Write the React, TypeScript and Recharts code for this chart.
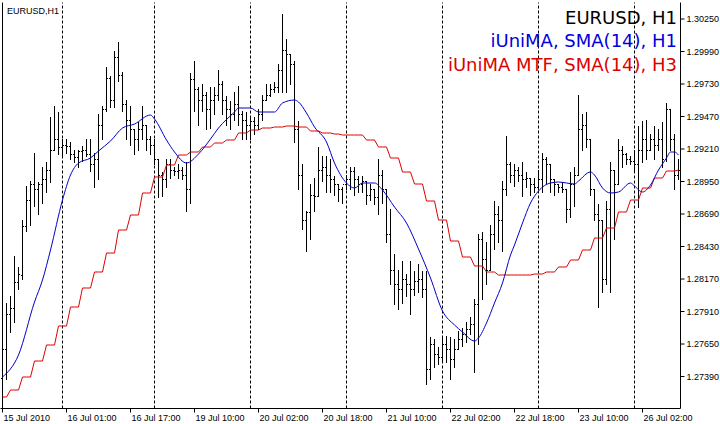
import React from 'react';
import { ComposedChart, Bar, Line, XAxis, YAxis, ReferenceLine } from 'recharts';

const OPEN = [
1.27378,1.27602,1.27882,1.27930,1.28138,1.28202,1.28586,1.28802,1.28922,1.28882,
1.28922,1.28962,1.29042,1.29202,1.29282,1.29218,1.29242,1.29226,1.29162,1.29138,
1.29186,1.29202,1.29162,1.29082,1.29122,1.29402,1.29522,1.29778,1.29602,1.29938,
1.29802,1.29562,1.29442,1.29362,1.29282,1.29362,1.29402,1.29282,1.29242,1.29122,
1.29002,1.28962,1.29082,1.29042,1.29026,1.29042,1.29002,1.28882,1.29762,1.29682,
1.29602,1.29642,1.29522,1.29602,1.29642,1.29722,1.29602,1.29522,1.29482,1.29562,
1.29482,1.29442,1.29402,1.29426,1.29402,1.29482,1.29602,1.29642,1.29682,1.29698,
1.29842,1.30002,1.29962,1.29882,1.29362,1.28994,1.28642,1.28698,1.28842,1.28826,
1.29042,1.29058,1.29002,1.28962,1.28922,1.28882,1.28922,1.28962,1.29026,1.28962,
1.28922,1.28946,1.28842,1.28882,1.28818,1.29002,1.28882,1.28522,1.28242,1.28122,
1.28082,1.28162,1.28122,1.28082,1.28146,1.28162,1.28082,1.27442,1.27642,1.27562,
1.27538,1.27642,1.27602,1.27522,1.27602,1.27682,1.27722,1.27762,1.27802,1.27962,
1.28482,1.28322,1.28242,1.28522,1.28682,1.28642,1.28882,1.29082,1.29002,1.29042,
1.29002,1.28962,1.28978,1.28922,1.28898,1.28962,1.29122,1.29082,1.28962,1.28922,
1.28898,1.28882,1.28722,1.28922,1.29002,1.29362,1.29402,1.29282,1.28882,1.28682,
1.28642,1.28162,1.28722,1.29042,1.28922,1.29202,1.29162,1.29122,1.29106,1.29082,
1.29202,1.29282,1.29202,1.29282,1.29242,1.29282,1.29122,1.29522,1.29282,1.29002,
];

const HIGH = [
1.27642,1.27978,1.28026,1.28346,1.28258,1.28642,1.28906,1.28946,1.29178,1.28938,
1.29058,1.29098,1.29458,1.29546,1.29498,1.29282,1.29282,1.29258,1.29202,1.29202,
1.29226,1.29282,1.29282,1.29178,1.29482,1.29546,1.29858,1.29786,1.29986,1.30066,
1.29826,1.29602,1.29546,1.29362,1.29418,1.29546,1.29402,1.29306,1.29282,1.29122,
1.29018,1.29122,1.29122,1.29058,1.29082,1.29058,1.29098,1.29818,1.29906,1.29698,
1.29722,1.29658,1.29698,1.29698,1.29834,1.29746,1.29626,1.29586,1.29658,1.29706,
1.29506,1.29498,1.29466,1.29458,1.29522,1.29642,1.29722,1.29722,1.29738,1.29882,
1.30282,1.30082,1.29962,1.29906,1.29426,1.29082,1.28706,1.28922,1.28970,1.29218,
1.29146,1.29146,1.29122,1.28986,1.28922,1.28898,1.29002,1.29066,1.29058,1.28986,
1.28986,1.28946,1.28922,1.28882,1.29122,1.29042,1.28882,1.28722,1.28362,1.28242,
1.28306,1.28202,1.28306,1.28226,1.28282,1.28226,1.28226,1.27698,1.27682,1.27618,
1.27706,1.27706,1.27698,1.27682,1.27746,1.27778,1.27818,1.27858,1.28002,1.28522,
1.28538,1.28458,1.28602,1.28786,1.28746,1.28946,1.29306,1.29098,1.29082,1.29066,
1.29098,1.29018,1.28978,1.28978,1.29042,1.29178,1.29138,1.29082,1.28962,1.28922,
1.28938,1.28882,1.29018,1.29066,1.29642,1.29482,1.29498,1.29282,1.28882,1.28762,
1.28642,1.28786,1.29098,1.29042,1.29282,1.29226,1.29178,1.29146,1.29202,1.29386,
1.29426,1.29442,1.29322,1.29386,1.29362,1.29418,1.29578,1.29522,1.29322,1.29122,
];

const LOW = [
1.27346,1.27362,1.27738,1.27818,1.28082,1.28162,1.28546,1.28602,1.28746,1.28682,
1.28778,1.28858,1.28938,1.29202,1.29162,1.29138,1.29178,1.29122,1.29098,1.29066,
1.29106,1.29146,1.29026,1.28898,1.28962,1.29282,1.29506,1.29538,1.29538,1.29746,
1.29506,1.29282,1.29242,1.29162,1.29202,1.29282,1.29202,1.29162,1.29082,1.28818,
1.28826,1.28898,1.28978,1.29002,1.28978,1.28962,1.28706,1.28778,1.29506,1.29402,
1.29506,1.29362,1.29378,1.29482,1.29602,1.29482,1.29402,1.29362,1.29442,1.29402,
1.29282,1.29282,1.29282,1.29322,1.29362,1.29442,1.29602,1.29626,1.29666,1.29666,
1.29666,1.29666,1.29722,1.29266,1.28882,1.28562,1.28386,1.28482,1.28706,1.28826,
1.28946,1.28866,1.28858,1.28842,1.28786,1.28778,1.28882,1.28882,1.28842,1.28858,
1.28858,1.28762,1.28802,1.28762,1.28682,1.28778,1.28458,1.28122,1.27962,1.27922,
1.27978,1.28026,1.27882,1.28042,1.28066,1.28018,1.27322,1.27362,1.27466,1.27482,
1.27506,1.27498,1.27362,1.27466,1.27602,1.27626,1.27658,1.27722,1.27418,1.27642,
1.28002,1.28122,1.28242,1.28402,1.28458,1.28386,1.28842,1.28938,1.28906,1.28946,
1.28826,1.28898,1.28842,1.28858,1.28882,1.28866,1.28922,1.28866,1.28842,1.28858,
1.28866,1.28618,1.28666,1.28746,1.29002,1.29202,1.29218,1.28842,1.28642,1.27938,
1.28058,1.28122,1.28066,1.28482,1.28922,1.29066,1.29082,1.29082,1.29042,1.28738,
1.29098,1.29122,1.29202,1.29122,1.29202,1.29066,1.29106,1.29202,1.28882,1.28962,
];

const CLOSE = [
1.27602,1.27882,1.27930,1.28138,1.28202,1.28586,1.28802,1.28922,1.28882,1.28922,
1.28962,1.29042,1.29202,1.29282,1.29218,1.29242,1.29226,1.29162,1.29138,1.29186,
1.29202,1.29162,1.29082,1.29122,1.29402,1.29522,1.29778,1.29602,1.29938,1.29802,
1.29562,1.29442,1.29362,1.29282,1.29362,1.29402,1.29282,1.29242,1.29122,1.29002,
1.28962,1.29082,1.29042,1.29026,1.29042,1.29002,1.28882,1.29762,1.29682,1.29602,
1.29642,1.29522,1.29602,1.29642,1.29722,1.29602,1.29522,1.29482,1.29562,1.29482,
1.29442,1.29402,1.29426,1.29402,1.29482,1.29602,1.29642,1.29682,1.29698,1.29842,
1.30002,1.29962,1.29882,1.29362,1.28994,1.28642,1.28698,1.28842,1.28826,1.29042,
1.29058,1.29002,1.28962,1.28922,1.28882,1.28922,1.28962,1.29026,1.28962,1.28922,
1.28946,1.28842,1.28882,1.28818,1.29002,1.28882,1.28522,1.28242,1.28122,1.28082,
1.28162,1.28122,1.28082,1.28146,1.28162,1.28082,1.27442,1.27642,1.27562,1.27538,
1.27642,1.27602,1.27522,1.27602,1.27682,1.27722,1.27762,1.27802,1.27962,1.28482,
1.28322,1.28242,1.28522,1.28682,1.28642,1.28882,1.29082,1.29002,1.29042,1.29002,
1.28962,1.28978,1.28922,1.28898,1.28962,1.29122,1.29082,1.28962,1.28922,1.28898,
1.28882,1.28722,1.28922,1.29002,1.29362,1.29402,1.29282,1.28882,1.28682,1.28642,
1.28162,1.28722,1.29042,1.28922,1.29202,1.29162,1.29122,1.29106,1.29082,1.29202,
1.29282,1.29202,1.29282,1.29242,1.29282,1.29122,1.29522,1.29282,1.29002,1.29042,
];

// iUniMA SMA(14) H1 — values read at selected bars (bar index, price)
const SMA_POINTS: [number, number][] = [
[0,1.27386],[4,1.27562],[8,1.27986],[10,1.28162],[12,1.28402],[15,1.28802],[17,1.29002],
[19,1.29098],[22,1.29138],[24,1.29194],[27,1.29274],[30,1.29378],[33,1.29410],[37,1.29482],
[38,1.29450],[41,1.29282],[43,1.29186],[46,1.29098],[49,1.29170],[52,1.29290],[54,1.29378],
[58,1.29506],[59,1.29538],[62,1.29538],[64,1.29506],[68,1.29506],[70,1.29578],[73,1.29602],
[74,1.29586],[76,1.29498],[78,1.29386],[81,1.29266],[83,1.29098],[86,1.28938],[88,1.28898],
[90,1.28938],[93,1.28938],[95,1.28882],[98,1.28746],[101,1.28618],[104,1.28410],[107,1.28178],
[110,1.27914],[113,1.27802],[115,1.27746],[118,1.27674],[119,1.27698],[121,1.27818],[123,1.27978],
[125,1.28138],[127,1.28362],[128,1.28442],[130,1.28618],[132,1.28778],[134,1.28874],[137,1.28938],
[139,1.28946],[141,1.28938],[143,1.28930],[144,1.28954],[147,1.29026],[148,1.29002],[150,1.28898],
[152,1.28858],[154,1.28866],[157,1.28938],[158,1.28914],[160,1.28866],[162,1.28922],[164,1.29042],
[166,1.29138],[167,1.29186],[168,1.29186],[169,1.29162],
];

// iUniMA MTF SMA(14) H3 — one value per H3 bar, starting at the given H1 bar index
const MTF_STARTS = [
0,2,5,8,11,14,17,20,23,26,29,32,35,38,41,44,47,50,53,56,59,62,65,68,71,74,77,80,83,85,
88,91,94,97,100,103,106,109,112,115,118,121,124,127,130,133,136,139,142,145,148,151,154,157,160,163,166,169,
];
const MTF_VALUES = [
1.27226,1.27282,1.27386,1.27514,1.27642,1.27794,1.27946,1.28098,1.28226,1.28378,
1.28562,1.28682,1.28858,1.28986,1.29082,1.29162,1.29186,1.29226,1.29258,1.29282,
1.29338,1.29362,1.29378,1.29386,1.29394,1.29386,1.29354,1.29338,1.29330,1.29322,
1.29322,1.29282,1.29226,1.29138,1.29026,1.28930,1.28794,1.28642,1.28474,1.28346,
1.28274,1.28226,1.28202,1.28202,1.28202,1.28210,1.28226,1.28266,1.28322,1.28402,
1.28498,1.28578,1.28706,1.28802,1.28898,1.28978,1.29034,1.29042,
];

const X_TICKS = [0, 16, 32, 48, 64, 80, 96, 112, 128, 144, 160];
const X_TICK_LABELS = [
'15 Jul 2010','16 Jul 01:00','16 Jul 17:00','19 Jul 10:00','20 Jul 02:00','20 Jul 18:00',
'21 Jul 10:00','22 Jul 02:00','22 Jul 18:00','23 Jul 10:00','26 Jul 02:00',
];
const DAY_SEPARATORS = [15, 38, 62, 86, 110, 134, 158];
const Y_TICKS = [1.2739,1.2765,1.2791,1.2817,1.2843,1.2869,1.2895,1.2921,1.2947,1.2973,1.2999,1.3025];
const Y_DOMAIN: [number, number] = [1.27134, 1.30382];

const smaMap = new Map<number, number>(SMA_POINTS);
const data = OPEN.map((o, i) => {
  let mtf = MTF_VALUES[0];
  for (let g = 0; g < MTF_STARTS.length; g++) if (MTF_STARTS[g] <= i) mtf = MTF_VALUES[g];
  return {
    i,
    open: o,
    high: HIGH[i],
    low: LOW[i],
    close: CLOSE[i],
    range: [LOW[i], HIGH[i]],
    sma: smaMap.has(i) ? smaMap.get(i) : null,
    mtf,
  };
});

const HLCBar = (props: any) => {
  const { x, y, width, height, payload } = props;
  if (x == null || y == null || !payload) return null;
  const cx = Math.floor(x + width / 2);
  const top = Math.min(y, y + height);
  const bot = Math.max(y, y + height);
  const span = payload.high - payload.low;
  const py = (v: number) => (span > 0 ? top + ((payload.high - v) / span) * (bot - top) : top);
  const t = Math.floor(top);
  const b = Math.ceil(bot);
  const oy = Math.min(b - 1, Math.floor(py(payload.open)));
  const cy = Math.min(b - 1, Math.floor(py(payload.close)));
  return (
    <g>
      <rect x={cx} y={t} width={1} height={Math.max(1, b - t)} fill="#000" />
      <rect x={cx - 1} y={oy} width={1} height={1} fill="#000" />
      <rect x={cx + 1} y={cy} width={1} height={1} fill="#000" />
    </g>
  );
};

const XTick = (props: any) => {
  const { x, y, payload } = props;
  const idx = X_TICKS.indexOf(payload.value);
  const label = idx >= 0 ? X_TICK_LABELS[idx] : '';
  return (
    <text x={x + 1} y={y + 6.5} fontSize={9} fontFamily="Liberation Sans" fill="#000" textAnchor="start">
      {label}
    </text>
  );
};

export default function App() {
  return (
    <div style={{ position: 'absolute', left: 0, top: 0, width: 720, height: 424, background: '#fff' }}>
      <ComposedChart
        width={720}
        height={424}
        data={data}
        margin={{ top: 2.5, right: 1.5, bottom: 1.5, left: 0.5 }}
        style={{ fontFamily: 'Liberation Sans' }}
      >
        <XAxis
          dataKey="i"
          type="category"
          ticks={X_TICKS}
          interval={0}
          height={14}
          tickSize={4}
          tickMargin={2}
          axisLine={{ stroke: '#000' }}
          tickLine={{ stroke: '#000' }}
          tick={<XTick />}
        />
        <XAxis
          xAxisId="top"
          orientation="top"
          dataKey="i"
          type="category"
          height={0}
          tick={false}
          tickLine={false}
          axisLine={{ stroke: '#000' }}
        />
        <YAxis
          orientation="right"
          type="number"
          domain={Y_DOMAIN}
          allowDataOverflow
          ticks={Y_TICKS}
          interval={0}
          width={38}
          tickSize={4}
          tickMargin={2}
          axisLine={{ stroke: '#000' }}
          tickLine={{ stroke: '#000' }}
          tick={{ fontSize: 9, fill: '#000', fontFamily: 'Liberation Sans' }}
          tickFormatter={(v: number) => v.toFixed(5)}
        />
        <ReferenceLine x={0} stroke="#000" />
        {DAY_SEPARATORS.map((s) => (
          <ReferenceLine key={s} x={s} stroke="#000" strokeDasharray="3 2" />
        ))}
        <Bar dataKey="range" shape={<HLCBar />} isAnimationActive={false} />
        <Line
          dataKey="mtf"
          type="linear"
          stroke="#e00000"
          strokeWidth={1}
          dot={false}
          activeDot={false}
          isAnimationActive={false}
        />
        <Line
          dataKey="sma"
          type="monotone"
          stroke="#0000cc"
          strokeWidth={1}
          dot={false}
          activeDot={false}
          connectNulls
          isAnimationActive={false}
        />
      </ComposedChart>
      <svg width={720} height={424} style={{ position: 'absolute', left: 0, top: 0, pointerEvents: 'none' }}>
        <text x={7} y={14} fontSize={9} fontFamily="Liberation Sans" fill="#000">EURUSD,H1</text>
        <text x={677} y={24} fontSize={18} fontFamily="DejaVu Sans" fill="#000" textAnchor="end">EURUSD, H1</text>
        <text x={677} y={47} fontSize={18} fontFamily="DejaVu Sans" fill="#0000dd" textAnchor="end">iUniMA, SMA(14), H1</text>
        <text x={677} y={71} fontSize={18} fontFamily="DejaVu Sans" fill="#dd0000" textAnchor="end">iUniMA MTF, SMA(14), H3</text>
      </svg>
    </div>
  );
}
